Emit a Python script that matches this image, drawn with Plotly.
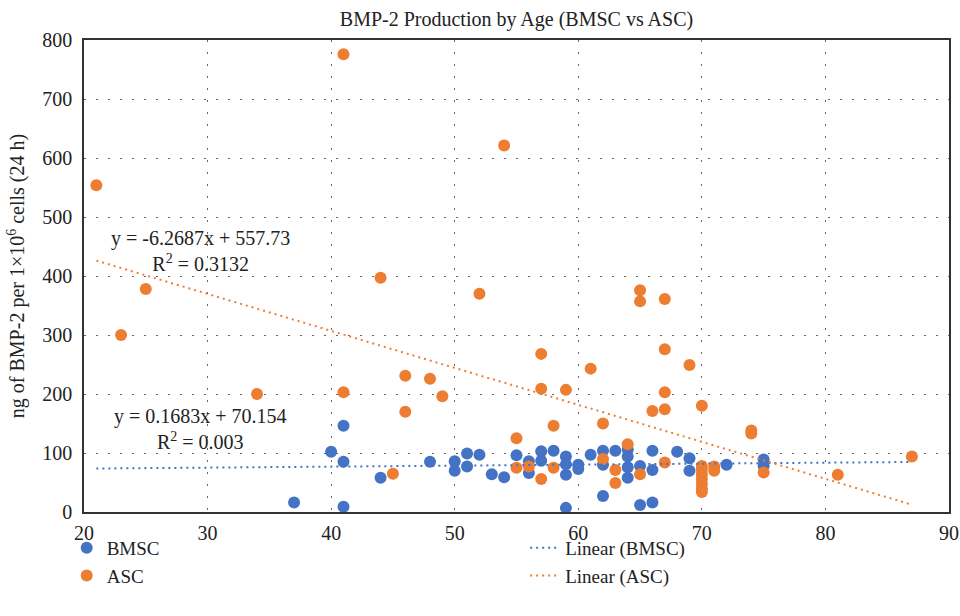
import plotly.graph_objects as go

# ---- data ----
bmsc_age = [37, 40, 41, 41, 41, 44, 48, 50, 50, 51, 51, 52, 53, 54, 55, 56, 56,
            57, 57, 58, 59, 59, 59, 59, 60, 60, 61, 62, 62, 62, 63, 64, 64, 64, 64,
            65, 65, 66, 66, 66, 68, 69, 69, 72, 75, 75]
bmsc_val = [16, 102, 146, 85, 9, 58, 85, 86, 70, 99, 77, 97, 64, 59, 96, 86, 66,
            103, 87, 104, 94, 81, 63, 7, 80, 73, 97, 104, 80, 27, 104, 106, 94, 76, 58,
            78, 12, 104, 71, 16, 102, 91, 70, 80, 89, 78]

asc_age = [21, 23, 25, 34, 41, 41, 44, 45, 46, 46, 48, 49, 52, 54, 55, 55, 56,
           57, 57, 57, 58, 58, 59, 61, 62, 62, 63, 63, 64, 65, 65, 65, 66, 67, 67,
           67, 67, 67, 69, 70, 70, 70, 70, 70, 70, 70, 70, 71, 71, 74, 74, 75, 81, 87]
asc_val = [554, 300, 378, 200, 776, 203, 397, 65, 231, 170, 226, 196, 370, 621, 125, 75, 77,
           268, 209, 56, 146, 75, 207, 243, 150, 90, 71, 49, 115, 376, 357, 64, 171, 361, 276,
           203, 174, 84, 249, 180, 78, 72, 64, 56, 48, 40, 34, 77, 70, 138, 133, 67, 63, 94]

bmsc_fit = (0.1683, 70.154, 0.003)
asc_fit = (-6.2687, 557.73, 0.3132)

x_ticks = [20, 30, 40, 50, 60, 70, 80, 90]
y_ticks = [0, 100, 200, 300, 400, 500, 600, 700, 800]

BLUE = "#4472C4"
ORANGE = "#ED7D31"
FONT = "Liberation Serif"

x_lo = min(bmsc_age + asc_age)
x_hi = max(bmsc_age + asc_age)

fig = go.Figure()
fig.add_trace(go.Scatter(x=bmsc_age, y=bmsc_val, mode="markers", name="BMSC",
                         marker=dict(color=BLUE, size=12), legend="legend"))
fig.add_trace(go.Scatter(x=asc_age, y=asc_val, mode="markers", name="ASC",
                         marker=dict(color=ORANGE, size=12), legend="legend"))
fig.add_trace(go.Scatter(x=[x_lo, x_hi],
                         y=[bmsc_fit[0] * x_lo + bmsc_fit[1], bmsc_fit[0] * x_hi + bmsc_fit[1]],
                         mode="lines", name="Linear (BMSC)",
                         line=dict(color=BLUE, width=2, dash="2px,4px"), legend="legend2"))
fig.add_trace(go.Scatter(x=[x_lo, x_hi],
                         y=[asc_fit[0] * x_lo + asc_fit[1], asc_fit[0] * x_hi + asc_fit[1]],
                         mode="lines", name="Linear (ASC)",
                         line=dict(color=ORANGE, width=2, dash="2px,4px"), legend="legend2"))

def eq_text(fit):
    m, b, r2 = fit
    sign = "-" if b < 0 else "+"
    return f"y = {m:g}x {sign} {abs(b):g}<br>R<sup>2</sup> = {r2:g}"

fig.add_annotation(x=29.4, y=442, xref="x", yref="y", text=eq_text(asc_fit),
                   showarrow=False, font=dict(family=FONT, size=20, color="#222"),
                   align="center")
fig.add_annotation(x=29.4, y=140, xref="x", yref="y", text=eq_text(bmsc_fit),
                   showarrow=False, font=dict(family=FONT, size=20, color="#222"),
                   align="center")

grid = dict(showgrid=True, gridcolor="#666666", gridwidth=1, griddash="2px,10px",
            showline=True, linecolor="#333333", linewidth=1.5, mirror=True,
            zeroline=False, ticks="", tickfont=dict(family=FONT, size=20, color="#222"),
            automargin=False)

fig.update_layout(
    width=960, height=616,
    margin=dict(l=84, r=11, t=40, b=104),
    paper_bgcolor="white", plot_bgcolor="white",
    font=dict(family=FONT, size=20, color="#222"),
    title=dict(text="BMP-2 Production by Age (BMSC vs ASC)", x=0.5, xref="paper",
               xanchor="center", y=1 - 19 / 616, yref="container", yanchor="middle",
               font=dict(family=FONT, size=20, color="#222")),
    xaxis=dict(range=[20, 90], tickvals=x_ticks, ticklabelstandoff=2,
               ticklabeloverflow="allow", **grid),
    yaxis=dict(range=[0, 800], tickvals=y_ticks, ticklabelstandoff=6,
               title=dict(text="ng of BMP-2 per 1×10<sup>6</sup> cells (24 h)",
                          font=dict(family=FONT, size=20, color="#222"), standoff=12),
               **grid),
    legend=dict(x=-0.02, xanchor="left", y=-0.036, yanchor="top", orientation="v",
                font=dict(family=FONT, size=19, color="#222"), bgcolor="rgba(0,0,0,0)",
                tracegroupgap=0, itemwidth=30),
    legend2=dict(x=0.51, xanchor="left", y=-0.036, yanchor="top", orientation="v",
                 font=dict(family=FONT, size=19, color="#222"), bgcolor="rgba(0,0,0,0)",
                 tracegroupgap=0, itemwidth=30),
    showlegend=True,
)

# remove the default page margin so the 960x616 figure fills the window exactly
fig.write_html("out.html",
               config={"responsive": False, "displayModeBar": False},
               post_script="document.body.style.margin='0px';document.body.style.overflow='hidden';")
